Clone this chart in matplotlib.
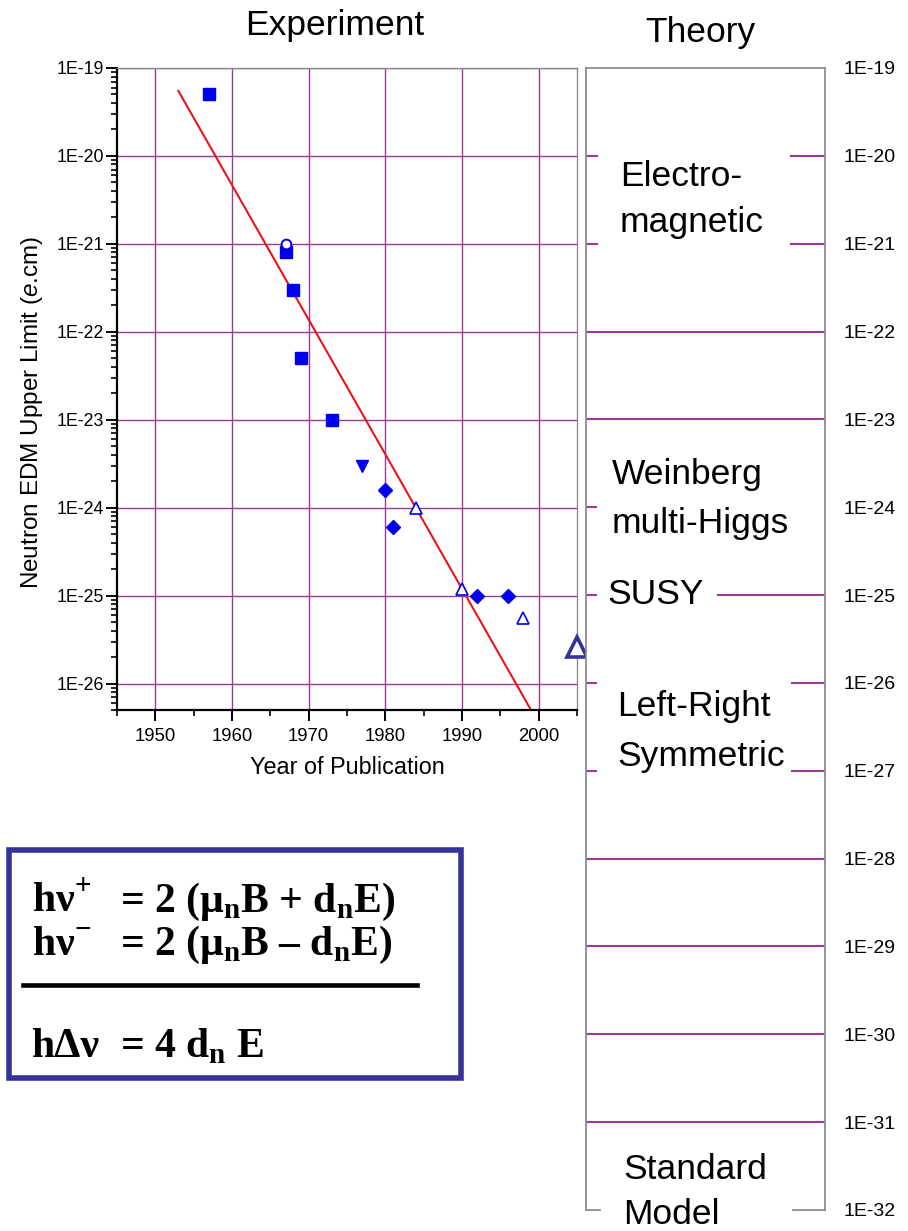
import numpy as np
import matplotlib
matplotlib.use('Agg')
import matplotlib.pyplot as plt
from matplotlib.ticker import LogLocator, NullFormatter, NullLocator, FuncFormatter
from matplotlib.patches import Rectangle
from matplotlib.lines import Line2D

plt.rcParams['font.family'] = ['Liberation Sans', 'DejaVu Sans']
plt.rcParams['mathtext.fontset'] = 'custom'
plt.rcParams['mathtext.rm'] = 'Liberation Sans'
plt.rcParams['mathtext.it'] = 'Liberation Sans:italic'
plt.rcParams['mathtext.bf'] = 'Liberation Serif:bold'

# measured limits (e.cm) by year of publication
sq_years = [1957, 1967, 1968, 1969, 1973]
sq_limits = [5e-20, 8e-22, 3e-22, 5e-23, 1e-23]
circ_years = [1967]
circ_limits = [1e-21]
tdown_years = [1977]
tdown_limits = [3e-24]
dia_years = [1980, 1981, 1992, 1996]
dia_limits = [1.6e-24, 6e-25, 1e-25, 1e-25]
otri_years = [1984, 1990, 1998]
otri_limits = [1e-24, 1.2e-25, 5.5e-26]
new_years = [2005]
new_limits = [2.6e-26]
fit_years = [1953, 1999]
fit_limits = [5.5e-20, 5e-27]

# theory column
theory_exps = list(range(19, 33))
theory_names = [('Electro-', 'magnetic'), ('Weinberg', 'multi-Higgs'), ('SUSY',),
                ('Left-Right', 'Symmetric'), ('Standard', 'Model')]

W, H = 908, 1231
purple = '#993d99'
gray = '#8c8c8c'
blue = '#0000ee'
navy = '#333399'

def box(l, t, r, b):
    return [l / W, 1 - b / H, (r - l) / W, (b - t) / H]

def fx(x):
    return x / W

def fy(y):
    return 1 - y / H

fig = plt.figure(figsize=(W / 100, H / 100), dpi=100)

# ---- experiment panel
ax = fig.add_axes(box(117, 68, 577, 710))
ax.set_yscale('log')
ax.set_xlim(1945, 2005)
ax.set_ylim(5e-27, 1e-19)
ax.set_xticks(range(1950, 2001, 10))
ax.set_xticks(range(1945, 2006, 10), minor=True)
ax.yaxis.set_major_locator(LogLocator(base=10, numticks=20))
ax.yaxis.set_minor_locator(LogLocator(base=10, subs=np.arange(2, 10), numticks=20))
ax.yaxis.set_minor_formatter(NullFormatter())
ax.yaxis.set_major_formatter(FuncFormatter(lambda v, p: '1E%d' % round(np.log10(v))))
ax.grid(True, which='major', color=purple, lw=1.0)
ax.set_axisbelow(True)
for s in ['top', 'right']:
    ax.spines[s].set_color(gray)
    ax.spines[s].set_linewidth(1.0)
for s in ['left', 'bottom']:
    ax.spines[s].set_linewidth(1.6)
ax.tick_params(which='major', direction='out', length=8, width=1.4, pad=1)
ax.tick_params(which='minor', direction='out', length=4, width=1.2)
ax.tick_params(axis='y', labelsize=12.8)
ax.tick_params(axis='x', labelsize=13.3, pad=5)

ax.plot(fit_years, fit_limits, color='#e8141b', lw=1.5)
ax.plot(sq_years, sq_limits, 's', color=blue, ms=8, mec=blue)
ax.plot(circ_years, circ_limits, 'o', mfc='white', mec=blue, ms=7, mew=1.4)
ax.plot(tdown_years, tdown_limits, 'v', color=blue, ms=9)
ax.plot(dia_years, dia_limits, 'D', color=blue, ms=7.5)
ax.plot(otri_years, otri_limits, '^', mfc='white', mec=blue, ms=9, mew=1.2)
ax.plot(new_years, new_limits, '^', mfc='white', mec=navy, ms=14, mew=2.6, clip_on=False, zorder=5)

ax.set_xlabel('Year of Publication', fontsize=16.8, labelpad=8)
fig.text(fx(32), fy(412), 'Neutron EDM Upper Limit ($e$.cm)', rotation=90,
         ha='center', va='center', fontsize=17.5)

# ---- theory panel
tax = fig.add_axes(box(586, 68, 825, 1210))
tax.set_yscale('log')
tax.set_ylim(10.0 ** -32, 10.0 ** -19)
tax.set_xlim(0, 1)
tax.set_xticks([])
tax.yaxis.tick_right()
tax.set_yticks([10.0 ** -e for e in theory_exps])
tax.set_yticklabels(['1E-%d' % e for e in theory_exps])
tax.yaxis.set_minor_locator(NullLocator())
tax.tick_params(axis='y', length=0, labelsize=14, pad=13)
tax.spines['bottom'].set_visible(False)
for s in ['top', 'left', 'right']:
    tax.spines[s].set_color(gray)
    tax.spines[s].set_linewidth(1.3)

def tx(px):
    return (px - 586) / (825 - 586)

# level lines, partly hidden behind the model names
level_segs = {
    20: [(586, 597), (791, 825)],
    21: [(586, 597), (791, 825)],
    22: [(586, 825)],
    23: [(586, 825)],
    24: [(586, 596)],
    25: [(586, 596), (718, 825)],
    26: [(586, 596), (792, 825)],
    27: [(586, 596), (792, 825)],
    28: [(586, 825)],
    29: [(586, 825)],
    30: [(586, 825)],
    31: [(586, 825)],
}
for e, segs in level_segs.items():
    for a, b in segs:
        tax.plot([tx(a), tx(b)], [10.0 ** -e] * 2, color=purple, lw=1.5)
for a, b in [(586, 600), (793, 825)]:
    tax.plot([tx(a), tx(b)], [10.0 ** -32] * 2, color=gray, lw=1.3, clip_on=False)

name_pos = [[(620, 186), (620, 232)], [(612, 484), (612, 533)], [(607, 604)],
            [(617, 716), (617, 766)], [(623, 1179), (623, 1224)]]
for lines, pos in zip(theory_names, name_pos):
    for s, (x, y) in zip(lines, pos):
        fig.text(fx(x), fy(y), s, fontsize=25.5, va='baseline', ha='left')

fig.text(fx(335), fy(35), 'Experiment', fontsize=25.5, ha='center', va='baseline')
fig.text(fx(700), fy(42), 'Theory', fontsize=25.5, ha='center', va='baseline')

# ---- equation box
fig.add_artist(Rectangle((fx(9), fy(1078)), fx(461.5) - fx(9), fy(850) - fy(1078),
                         transform=fig.transFigure, fill=False, ec=navy, lw=4))
fig.add_artist(Line2D([fx(23), fx(417)], [fy(985), fy(985)], transform=fig.transFigure,
                      color='black', lw=3.3))
eq = dict(fontsize=30, family='Liberation Serif', weight='bold', va='baseline', ha='left')
fig.text(fx(32), fy(912), r'hν$^{\mathbf{+}}$', **eq)
fig.text(fx(120), fy(912), r'= 2 (μ$_{\mathbf{n}}$B + d$_{\mathbf{n}}$E)', **eq)
fig.text(fx(32), fy(955), r'hν$^{\mathbf{-}}$', **eq)
fig.text(fx(120), fy(955), r'= 2 (μ$_{\mathbf{n}}$B – d$_{\mathbf{n}}$E)', **eq)
fig.text(fx(32), fy(1057), r'hΔν', **eq)
fig.text(fx(120), fy(1057), r'= 4 d$_{\mathbf{n}}$ E', **eq)

fig.savefig('out.png', dpi=100)
